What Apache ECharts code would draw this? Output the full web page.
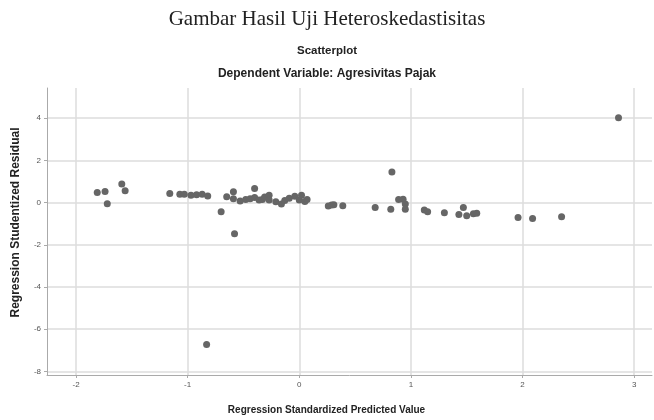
<!DOCTYPE html>
<html>
<head>
<meta charset="utf-8">
<script src="https://cdn.jsdelivr.net/npm/echarts@6/dist/echarts.min.js"></script>
<style>html,body{margin:0;padding:0;background:#fff}#c{width:654px;height:420px}</style>
</head>
<body>
<div id="c"></div>
<script>
const predicted = [-1.81,-1.74,-1.72,-1.59,-1.56,-1.16,-1.07,-1.03,-0.97,-0.92,-0.87,-0.82,-0.70,-0.65,-0.59,-0.59,-0.53,-0.48,-0.44,-0.40,-0.40,-0.36,-0.33,-0.31,-0.27,-0.27,-0.21,-0.16,-0.13,-0.09,-0.04,0.00,0.02,0.05,0.07,-0.83,-0.58,0.26,0.29,0.31,0.39,0.68,0.82,0.83,0.89,0.93,0.95,0.95,1.12,1.15,1.30,1.43,1.47,1.50,1.56,1.59,1.96,2.09,2.35,2.86];
const residual = [0.48,0.53,-0.06,0.88,0.56,0.43,0.40,0.39,0.35,0.37,0.39,0.31,-0.44,0.28,0.51,0.18,0.08,0.15,0.18,0.67,0.24,0.12,0.15,0.27,0.35,0.12,0.04,-0.07,0.10,0.20,0.30,0.12,0.35,0.05,0.15,-6.72,-1.48,-0.16,-0.12,-0.10,-0.15,-0.23,-0.31,1.45,0.15,0.16,-0.07,-0.31,-0.35,-0.43,-0.48,-0.56,-0.23,-0.62,-0.53,-0.51,-0.71,-0.75,-0.67,4.02];
const xTicks = [-2,-1,0,1,2,3];
const yTicks = [-8,-6,-4,-2,0,2,4];

const points = predicted.map((x, i) => [x, residual[i]]);
const chart = echarts.init(document.getElementById('c'));
const tickLabel = {color:'#555', fontSize:8, fontFamily:'Liberation Sans, Arial'};
chart.setOption({
  backgroundColor:'#fff',
  animation:false,
  title:[
    {text:'Gambar Hasil Uji Heteroskedastisitas', left:'center', top:4,
     textStyle:{fontFamily:'Liberation Serif, Times New Roman', fontWeight:'normal', fontSize:21, color:'#222'}},
    {text:'Scatterplot', left:'center', top:40,
     textStyle:{fontFamily:'Liberation Sans, Arial', fontWeight:'bold', fontSize:11.5, color:'#222'}},
    {text:'Dependent Variable: Agresivitas Pajak', left:'center', top:63,
     textStyle:{fontFamily:'Liberation Sans, Arial', fontWeight:'bold', fontSize:12, color:'#222'}}
  ],
  grid:{left:47, right:2, top:88, bottom:43, containLabel:false},
  xAxis:{
    type:'value', min:-2.26, max:3.16,
    name:'Regression Standardized Predicted Value', nameLocation:'middle', nameGap:30,
    nameTextStyle:{fontFamily:'Liberation Sans, Arial', fontWeight:'bold', fontSize:10, color:'#222', padding:[0,46,0,0]},
    axisLine:{show:true, onZero:false, lineStyle:{color:'#aaa', width:1}},
    axisTick:{show:true, length:3, customValues:xTicks, lineStyle:{color:'#aaa'}},
    axisLabel:Object.assign({customValues:xTicks, margin:6}, tickLabel),
    splitLine:{show:true, lineStyle:{color:'#dcdcdc', width:1.5}}
  },
  yAxis:{
    type:'value', min:-8.17, max:5.43,
    name:'Regression Studentized Residual', nameLocation:'middle', nameGap:25,
    nameTextStyle:{fontFamily:'Liberation Sans, Arial', fontWeight:'bold', fontSize:12, color:'#222', padding:[0,0,0,18]},
    axisLine:{show:true, onZero:false, lineStyle:{color:'#aaa', width:1}},
    axisTick:{show:true, length:3, customValues:yTicks, lineStyle:{color:'#aaa'}},
    axisLabel:Object.assign({customValues:yTicks, margin:6}, tickLabel),
    splitLine:{show:true, lineStyle:{color:'#dcdcdc', width:1.5}}
  },
  series:[{
    type:'scatter', data:points, symbolSize:7,
    itemStyle:{color:'#666', opacity:1}
  }]
});
</script>
</body>
</html>
